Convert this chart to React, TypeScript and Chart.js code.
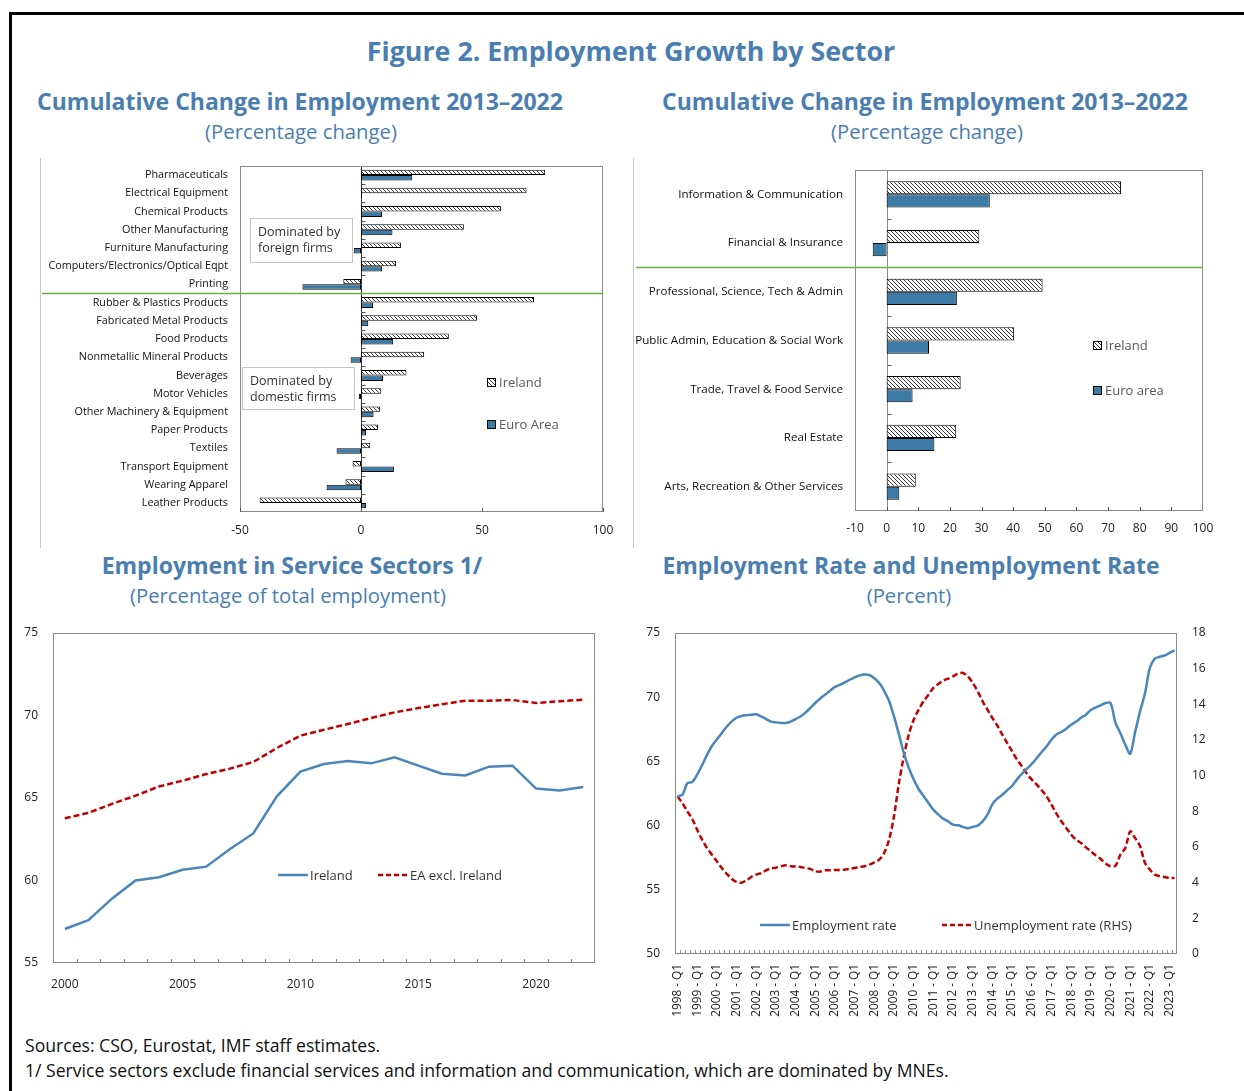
import React, { useEffect, useRef } from 'react';
import { Chart, registerables } from 'chart.js';

Chart.register(...registerables);

// ---------------- DATA ----------------
const manufCategories = [
  'Pharmaceuticals',
  'Electrical Equipment',
  'Chemical Products',
  'Other Manufacturing',
  'Furniture Manufacturing',
  'Computers/Electronics/Optical Eqpt',
  'Printing',
  'Rubber & Plastics Products',
  'Fabricated Metal Products',
  'Food Products',
  'Nonmetallic Mineral Products',
  'Beverages',
  'Motor Vehicles',
  'Other Machinery & Equipment',
  'Paper Products',
  'Textiles',
  'Transport Equipment',
  'Wearing Apparel',
  'Leather Products',
];
const manufIreland = [76.1, 68.4, 57.8, 42.5, 16.5, 14.5, -7.3, 71.5, 47.9, 36.3, 26.1, 18.8, 8.4, 7.9, 7.0, 3.8, -3.5, -6.4, -41.9];
const manufEuro = [21.2, 0.3, 8.7, 13.0, -3.0, 8.7, -24.2, 5.0, 3.0, 13.3, -4.3, 9.1, -0.8, 5.2, 2.1, -10.1, 13.6, -14.2, 2.1];
const manufTicks = [-50, 0, 50, 100];

const serviceCategories = [
  'Information & Communication',
  'Financial & Insurance',
  'Professional, Science, Tech & Admin',
  'Public Admin, Education & Social Work',
  'Trade, Travel & Food Service',
  'Real Estate',
  'Arts, Recreation & Other Services',
];
const serviceIreland = [74.1, 29.3, 49.3, 40.3, 23.4, 22.0, 9.2];
const serviceEuro = [32.6, -4.4, 22.2, 13.4, 8.2, 15.1, 4.0];
const serviceTicks = [0, 10, 20, 30, 40, 50, 60, 70, 80, 90];

const shareYears = ['2000', '2001', '2002', '2003', '2004', '2005', '2006', '2007', '2008', '2009', '2010', '2011',
  '2012', '2013', '2014', '2015', '2016', '2017', '2018', '2019', '2020', '2021', '2022'];
const shareIreland = [57.06, 57.6, 58.9, 60.0, 60.2, 60.65, 60.84, 61.9, 62.85, 65.1, 66.6, 67.06, 67.24, 67.1, 67.46,
  66.96, 66.47, 66.37, 66.9, 66.96, 65.57, 65.46, 65.67];
const shareEAexIreland = [63.77, 64.1, 64.64, 65.14, 65.7, 66.05, 66.45, 66.78, 67.18, 68.03, 68.78, 69.14, 69.48,
  69.85, 70.19, 70.45, 70.68, 70.9, 70.9, 70.94, 70.76, 70.86, 70.96];

const quarterYears = ['1998', '1999', '2000', '2001', '2002', '2003', '2004', '2005', '2006', '2007', '2008', '2009',
  '2010', '2011', '2012', '2013', '2014', '2015', '2016', '2017', '2018', '2019', '2020', '2021', '2022', '2023'];
const quarterNames = ['Q1', 'Q2', 'Q3', 'Q4'];
const employmentRate = [
  62.28, 62.4, 63.3, 63.4,
  63.97, 64.7, 65.5, 66.2,
  66.7, 67.2, 67.7, 68.1,
  68.4, 68.54, 68.6, 68.64,
  68.67, 68.5, 68.3, 68.1,
  68.04, 68.0, 67.99, 68.1,
  68.3, 68.5, 68.8, 69.16,
  69.55, 69.9, 70.2, 70.5,
  70.8, 70.96, 71.15, 71.36,
  71.55, 71.7, 71.76, 71.73,
  71.47, 71.1, 70.5, 69.7,
  68.5, 67.1, 65.65, 64.5,
  63.6, 62.85, 62.3, 61.76,
  61.24, 60.85, 60.54, 60.33,
  60.07, 60.02, 59.9, 59.8,
  59.9, 60.0, 60.33, 60.85,
  61.68, 62.1, 62.4, 62.75,
  63.1, 63.6, 64.05, 64.43,
  64.8, 65.26, 65.73, 66.17,
  66.7, 67.1, 67.29, 67.55,
  67.86, 68.1, 68.4, 68.64,
  69.0, 69.2, 69.37, 69.55,
  69.55, 68.0, 67.2, 66.3,
  65.6, 67.3, 68.9, 70.3,
  72.3, 73.0, 73.15, 73.25,
  73.45, 73.65,
];
const unemploymentRate = [
  8.84, 8.47, 8.0, 7.57,
  6.97, 6.41, 5.94, 5.57,
  5.2, 4.82, 4.5, 4.22,
  4.04, 4.0, 4.13, 4.32,
  4.45, 4.54, 4.69, 4.8,
  4.84, 4.92, 4.97, 4.92,
  4.9, 4.88, 4.82, 4.77,
  4.64, 4.62, 4.69, 4.69,
  4.71, 4.71, 4.73, 4.77,
  4.82, 4.88, 4.92, 5.01,
  5.14, 5.29, 5.66, 6.41,
  7.72, 9.59, 11.08, 12.3,
  13.14, 13.7, 14.17, 14.54,
  14.92, 15.14, 15.33, 15.44,
  15.57, 15.72, 15.76, 15.57,
  15.2, 14.73, 14.17, 13.7,
  13.23, 12.8, 12.3, 11.83,
  11.36, 10.9, 10.52, 10.11,
  9.78, 9.5, 9.18, 8.84,
  8.37, 7.87, 7.44, 7.07,
  6.69, 6.41, 6.22, 5.98,
  5.76, 5.53, 5.33, 5.07,
  4.92, 4.95, 5.57, 5.94,
  6.88, 6.5, 6.04, 5.1,
  4.73, 4.45, 4.36, 4.32,
  4.26, 4.26,
];
const quarterLabels: string[] = [];
quarterYears.forEach((y) => quarterNames.forEach((q) => quarterLabels.push(`${y} - ${q}`)));
quarterLabels.length = employmentRate.length;

// ---------------- STYLE ----------------
const FONT = "'Open Sans', 'Noto Sans', sans-serif";
const TITLE_BLUE = '#4A7EB0';
const EURO_BLUE = '#3C7BA5';
const LINE_BLUE = '#4A86B8';
const LINE_RED = '#C00000';
const FRAME_GRAY = '#8a8a8a';
const GREEN = '#6AAF3D';

function makeHatch(): CanvasPattern | string {
  const c = document.createElement('canvas');
  c.width = 4;
  c.height = 4;
  const g = c.getContext('2d');
  if (!g) return '#ccc';
  g.fillStyle = '#ffffff';
  g.fillRect(0, 0, 4, 4);
  g.strokeStyle = '#3a3a3a';
  g.lineWidth = 1;
  g.beginPath();
  g.moveTo(-1, -1);
  g.lineTo(5, 5);
  g.moveTo(-1, 3);
  g.lineTo(1, 5);
  g.moveTo(3, -1);
  g.lineTo(5, 1);
  g.stroke();
  return g.createPattern(c, 'repeat') || '#ccc';
}

type LegendItem = { x: number; y: number; text: string; fill: any };
type Box = { x: number; y: number; w: number; h: number; lines: string[] };

function barDecor(o: {
  splitAfter: number;
  zeroColor: string;
  tickValues: number[];
  legend: LegendItem[];
  boxes: Box[];
  legendFont: number;
}) {
  return {
    id: 'barDecor',
    beforeDatasetsDraw(chart: any) {
      const { ctx, chartArea: a, scales } = chart;
      const xs = scales.x;
      const x0 = Math.round(xs.getPixelForValue(0)) + 0.5;
      ctx.save();
      ctx.strokeStyle = o.zeroColor;
      ctx.lineWidth = 1;
      ctx.beginPath();
      ctx.moveTo(x0, a.top);
      ctx.lineTo(x0, a.bottom);
      ctx.stroke();
      ctx.restore();
    },
    afterDraw(chart: any) {
      const { ctx, chartArea: a, scales } = chart;
      const xs = scales.x;
      const ys = scales.y;
      const n = ys.ticks.length;
      const x0 = Math.round(xs.getPixelForValue(0)) + 0.5;
      ctx.save();
      ctx.strokeStyle = FRAME_GRAY;
      ctx.lineWidth = 1;
      ctx.strokeRect(a.left + 0.5, a.top + 0.5, a.right - a.left - 1, a.bottom - a.top - 1);
      ctx.strokeStyle = '#555';
      ctx.beginPath();
      for (let i = 0; i < n - 1; i++) {
        const y = Math.round((ys.getPixelForTick(i) + ys.getPixelForTick(i + 1)) / 2) + 0.5;
        ctx.moveTo(x0, y);
        ctx.lineTo(x0 + 4, y);
      }
      o.tickValues.forEach((v) => {
        const x = Math.round(xs.getPixelForValue(v)) + 0.5;
        ctx.moveTo(x, a.bottom);
        ctx.lineTo(x, a.bottom - 4);
      });
      ctx.stroke();
      const ySplit = Math.round((ys.getPixelForTick(o.splitAfter) + ys.getPixelForTick(o.splitAfter + 1)) / 2) + 0.5;
      ctx.strokeStyle = GREEN;
      ctx.lineWidth = 1.4;
      ctx.beginPath();
      ctx.moveTo(0, ySplit);
      ctx.lineTo(a.right, ySplit);
      ctx.stroke();
      o.boxes.forEach((b) => {
        ctx.fillStyle = '#fff';
        ctx.fillRect(b.x, b.y, b.w, b.h);
        ctx.strokeStyle = '#c4c4c4';
        ctx.lineWidth = 1;
        ctx.strokeRect(b.x + 0.5, b.y + 0.5, b.w, b.h);
        ctx.fillStyle = '#333';
        ctx.font = `12.5px ${FONT}`;
        ctx.textAlign = 'left';
        ctx.textBaseline = 'middle';
        b.lines.forEach((t, i) => ctx.fillText(t, b.x + 8, b.y + 14 + i * 16));
      });
      o.legend.forEach((l) => {
        ctx.fillStyle = l.fill;
        ctx.fillRect(l.x, l.y - 4, 9, 9);
        ctx.strokeStyle = '#000';
        ctx.lineWidth = 1;
        ctx.strokeRect(l.x + 0.5, l.y - 3.5, 8, 8);
        ctx.fillStyle = '#595959';
        ctx.font = `${o.legendFont}px ${FONT}`;
        ctx.textAlign = 'left';
        ctx.textBaseline = 'middle';
        ctx.fillText(l.text, l.x + 12, l.y + 1);
      });
      ctx.restore();
    },
  };
}

type LineLegend = { x: number; y: number; text: string; color: string; dash: number[] };

function lineDecor(o: { legend: LineLegend[] }) {
  return {
    id: 'lineDecor',
    afterDraw(chart: any) {
      const { ctx, chartArea: a, scales } = chart;
      const xs = scales.x;
      const n = xs.ticks.length;
      const w = (a.right - a.left) / n;
      ctx.save();
      ctx.strokeStyle = FRAME_GRAY;
      ctx.lineWidth = 1;
      ctx.strokeRect(a.left + 0.5, a.top + 0.5, a.right - a.left - 1, a.bottom - a.top - 1);
      ctx.beginPath();
      for (let i = 1; i < n; i++) {
        const x = Math.round(a.left + i * w) + 0.5;
        ctx.moveTo(x, a.bottom);
        ctx.lineTo(x, a.bottom - 4);
      }
      ctx.stroke();
      o.legend.forEach((l) => {
        ctx.strokeStyle = l.color;
        ctx.lineWidth = 2.5;
        ctx.setLineDash(l.dash);
        ctx.beginPath();
        ctx.moveTo(l.x, l.y);
        ctx.lineTo(l.x + 30, l.y);
        ctx.stroke();
        ctx.setLineDash([]);
        ctx.fillStyle = '#333';
        ctx.font = `13px ${FONT}`;
        ctx.textAlign = 'left';
        ctx.textBaseline = 'middle';
        ctx.fillText(l.text, l.x + 32, l.y + 1);
      });
      ctx.restore();
    },
  };
}

const fitV = (w: number) => (s: any) => {
  s.width = w;
  s.paddingTop = 0;
  s.paddingBottom = 0;
};
const fitH = (h: number) => (s: any) => {
  s.height = h;
  s.paddingLeft = 0;
  s.paddingRight = 0;
};

// ---------------- CHART BUILDERS ----------------
function buildManuf(canvas: HTMLCanvasElement) {
  const hatch = makeHatch();
  return new Chart(canvas, {
    type: 'bar',
    data: {
      labels: manufCategories,
      datasets: [
        { label: 'Ireland', data: manufIreland, backgroundColor: hatch as any, borderColor: '#000', borderWidth: 1, borderSkipped: false, categoryPercentage: 0.6, barPercentage: 1 },
        { label: 'Euro Area', data: manufEuro, backgroundColor: EURO_BLUE, borderColor: '#000', borderWidth: 1, borderSkipped: false, categoryPercentage: 0.6, barPercentage: 1 },
      ],
    },
    options: {
      indexAxis: 'y',
      responsive: false,
      animation: false,
      layout: { padding: { top: 6, right: 19, left: 0, bottom: 0 } },
      plugins: { legend: { display: false }, tooltip: { enabled: false } },
      scales: {
        x: {
          min: -50,
          max: 100,
          ticks: { stepSize: 50, font: { family: FONT, size: 12 }, color: '#222', padding: 11 },
          grid: { display: false, drawTicks: false },
          border: { display: false },
          afterFit: fitH(38),
        },
        y: {
          ticks: { font: { family: FONT, size: 10.8 }, color: '#111', padding: 12, autoSkip: false },
          grid: { display: false, drawTicks: false },
          border: { display: false },
          afterFit: fitV(198),
        },
      },
    } as any,
    plugins: [
      barDecor({
        splitAfter: 6,
        zeroColor: '#333',
        tickValues: manufTicks,
        legendFont: 13,
        legend: [
          { x: 445, y: 222, text: 'Ireland', fill: hatch },
          { x: 445, y: 264, text: 'Euro Area', fill: EURO_BLUE },
        ],
        boxes: [
          { x: 208, y: 58, w: 102, h: 44, lines: ['Dominated by', 'foreign firms'] },
          { x: 200, y: 207, w: 112, h: 42, lines: ['Dominated by', 'domestic firms'] },
        ],
      }) as any,
    ],
  });
}

function buildServices(canvas: HTMLCanvasElement) {
  const hatch = makeHatch();
  return new Chart(canvas, {
    type: 'bar',
    data: {
      labels: serviceCategories,
      datasets: [
        { label: 'Ireland', data: serviceIreland, backgroundColor: hatch as any, borderColor: '#000', borderWidth: 1, borderSkipped: false, categoryPercentage: 0.54, barPercentage: 1 },
        { label: 'Euro area', data: serviceEuro, backgroundColor: EURO_BLUE, borderColor: '#000', borderWidth: 1, borderSkipped: false, categoryPercentage: 0.54, barPercentage: 1 },
      ],
    },
    options: {
      indexAxis: 'y',
      responsive: false,
      animation: false,
      layout: { padding: { top: 10, right: 33, left: 0, bottom: 0 } },
      plugins: { legend: { display: false }, tooltip: { enabled: false } },
      scales: {
        x: {
          min: -10,
          max: 100,
          ticks: { stepSize: 10, font: { family: FONT, size: 12 }, color: '#222', padding: 10 },
          grid: { display: false, drawTicks: false },
          border: { display: false },
          afterFit: fitH(39),
        },
        y: {
          ticks: { font: { family: FONT, size: 11.6 }, color: '#111', padding: 12, autoSkip: false },
          grid: { display: false, drawTicks: false },
          border: { display: false },
          afterFit: fitV(219),
        },
      },
    } as any,
    plugins: [
      barDecor({
        splitAfter: 1,
        zeroColor: '#8a8a8a',
        tickValues: serviceTicks,
        legendFont: 13,
        legend: [
          { x: 457, y: 185, text: 'Ireland', fill: hatch },
          { x: 457, y: 230, text: 'Euro area', fill: EURO_BLUE },
        ],
        boxes: [],
      }) as any,
    ],
  });
}

function buildShare(canvas: HTMLCanvasElement) {
  return new Chart(canvas, {
    type: 'line',
    data: {
      labels: shareYears,
      datasets: [
        { label: 'Ireland', data: shareIreland, borderColor: LINE_BLUE, borderWidth: 2.5, pointRadius: 0, tension: 0 },
        { label: 'EA excl. Ireland', data: shareEAexIreland, borderColor: LINE_RED, borderWidth: 2.5, borderDash: [6, 3], pointRadius: 0, tension: 0 },
      ],
    },
    options: {
      responsive: false,
      animation: false,
      layout: { padding: { top: 13, right: 23, left: 0, bottom: 0 } },
      plugins: { legend: { display: false }, tooltip: { enabled: false } },
      scales: {
        x: {
          offset: true,
          ticks: {
            autoSkip: false,
            maxRotation: 0,
            font: { family: FONT, size: 12 },
            color: '#222',
            padding: 14,
            callback: (_v: any, i: number) => (i % 5 === 0 ? shareYears[i] : ''),
          },
          grid: { display: false, drawTicks: false },
          border: { display: false },
          afterFit: fitH(37),
        },
        y: {
          min: 55,
          max: 75,
          ticks: { stepSize: 5, font: { family: FONT, size: 12 }, color: '#222', padding: 15 },
          grid: { display: false, drawTicks: false },
          border: { display: false },
          afterFit: fitV(35),
        },
      },
    } as any,
    plugins: [
      lineDecor({
        legend: [
          { x: 260, y: 255, text: 'Ireland', color: LINE_BLUE, dash: [] },
          { x: 360, y: 255, text: 'EA excl. Ireland', color: LINE_RED, dash: [5, 3] },
        ],
      }) as any,
    ],
  });
}

function buildRates(canvas: HTMLCanvasElement) {
  return new Chart(canvas, {
    type: 'line',
    data: {
      labels: quarterLabels,
      datasets: [
        { label: 'Employment rate', data: employmentRate, borderColor: LINE_BLUE, borderWidth: 2.5, pointRadius: 0, tension: 0.3, yAxisID: 'y' },
        { label: 'Unemployment rate (RHS)', data: unemploymentRate, borderColor: LINE_RED, borderWidth: 2.5, borderDash: [6, 3], pointRadius: 0, tension: 0.3, yAxisID: 'y1' },
      ],
    },
    options: {
      responsive: false,
      animation: false,
      layout: { padding: { top: 13, right: 0, left: 0, bottom: 0 } },
      plugins: { legend: { display: false }, tooltip: { enabled: false } },
      scales: {
        x: {
          offset: true,
          ticks: {
            autoSkip: false,
            minRotation: 90,
            maxRotation: 90,
            font: { family: FONT, size: 11.8 },
            color: '#222',
            padding: 10,
            callback: (_v: any, i: number) => (i % 4 === 0 ? quarterLabels[i] : ''),
          },
          grid: { display: false, drawTicks: false },
          border: { display: false },
          afterFit: fitH(66),
        },
        y: {
          position: 'left',
          min: 50,
          max: 75,
          ticks: { stepSize: 5, font: { family: FONT, size: 12 }, color: '#222', padding: 15 },
          grid: { display: false, drawTicks: false },
          border: { display: false },
          afterFit: fitV(39),
        },
        y1: {
          position: 'right',
          min: 0,
          max: 18,
          ticks: { stepSize: 2, font: { family: FONT, size: 12 }, color: '#222', padding: 15 },
          grid: { display: false, drawTicks: false },
          border: { display: false },
          afterFit: fitV(59),
        },
      },
    } as any,
    plugins: [
      lineDecor({
        legend: [
          { x: 124, y: 305, text: 'Employment rate', color: LINE_BLUE, dash: [] },
          { x: 306, y: 305, text: 'Unemployment rate (RHS)', color: LINE_RED, dash: [5, 3] },
        ],
      }) as any,
    ],
  });
}

// ---------------- COMPONENTS ----------------
function ChartCanvas(props: { left: number; top: number; width: number; height: number; build: (c: HTMLCanvasElement) => Chart }) {
  const ref = useRef<HTMLCanvasElement>(null);
  useEffect(() => {
    if (!ref.current) return;
    const chart = props.build(ref.current);
    return () => chart.destroy();
  }, []);
  return (
    <canvas
      ref={ref}
      width={props.width}
      height={props.height}
      style={{ position: 'absolute', left: props.left, top: props.top, width: props.width, height: props.height }}
    />
  );
}

function CenterText(props: { cx: number; cy: number; size: number; bold?: boolean; children: React.ReactNode }) {
  const lh = Math.round(props.size * 1.3);
  return (
    <div
      style={{
        position: 'absolute',
        left: props.cx - 400,
        top: props.cy - lh / 2,
        width: 800,
        textAlign: 'center',
        fontFamily: FONT,
        fontSize: props.size,
        fontWeight: props.bold ? 700 : 400,
        lineHeight: `${lh}px`,
        color: TITLE_BLUE,
        whiteSpace: 'nowrap',
      }}
    >
      {props.children}
    </div>
  );
}

export default function App() {
  return (
    <div style={{ position: 'absolute', left: 0, top: 0, width: 1244, height: 1091, background: '#fff', overflow: 'hidden' }}>
      <div style={{ position: 'absolute', left: 9, top: 12, width: 1235, height: 1079, borderTop: '3px solid #000', borderLeft: '3px solid #000', boxSizing: 'border-box' }} />
      <div style={{ position: 'absolute', left: 40, top: 158, width: 1, height: 390, background: '#c8c8c8' }} />
      <div style={{ position: 'absolute', left: 633, top: 158, width: 1, height: 390, background: '#c8c8c8' }} />

      <CenterText cx={631} cy={50} size={26.8} bold>Figure 2. Employment Growth by Sector</CenterText>
      <CenterText cx={300} cy={101} size={23} bold>Cumulative Change in Employment 2013–2022</CenterText>
      <CenterText cx={301} cy={131} size={20.3}>(Percentage change)</CenterText>
      <CenterText cx={925} cy={101} size={23} bold>Cumulative Change in Employment 2013–2022</CenterText>
      <CenterText cx={927} cy={131} size={20.3}>(Percentage change)</CenterText>
      <CenterText cx={292} cy={565} size={23} bold>Employment in Service Sectors 1/</CenterText>
      <CenterText cx={288} cy={595} size={20.3}>(Percentage of total employment)</CenterText>
      <CenterText cx={911} cy={565} size={23} bold>Employment Rate and Unemployment Rate</CenterText>
      <CenterText cx={909} cy={595} size={20.3}>(Percent)</CenterText>

      <ChartCanvas left={42} top={160} width={580} height={390} build={buildManuf} />
      <ChartCanvas left={636} top={160} width={600} height={390} build={buildServices} />
      <ChartCanvas left={18} top={620} width={600} height={380} build={buildShare} />
      <ChartCanvas left={636} top={620} width={600} height={400} build={buildRates} />

      <div style={{ position: 'absolute', left: 25, top: 1033, fontFamily: FONT, fontSize: 17.6, lineHeight: '25px', color: '#111', whiteSpace: 'nowrap' }}>
        Sources: CSO, Eurostat, IMF staff estimates.
        <br />
        1/ Service sectors exclude financial services and information and communication, which are dominated by MNEs.
      </div>
    </div>
  );
}
